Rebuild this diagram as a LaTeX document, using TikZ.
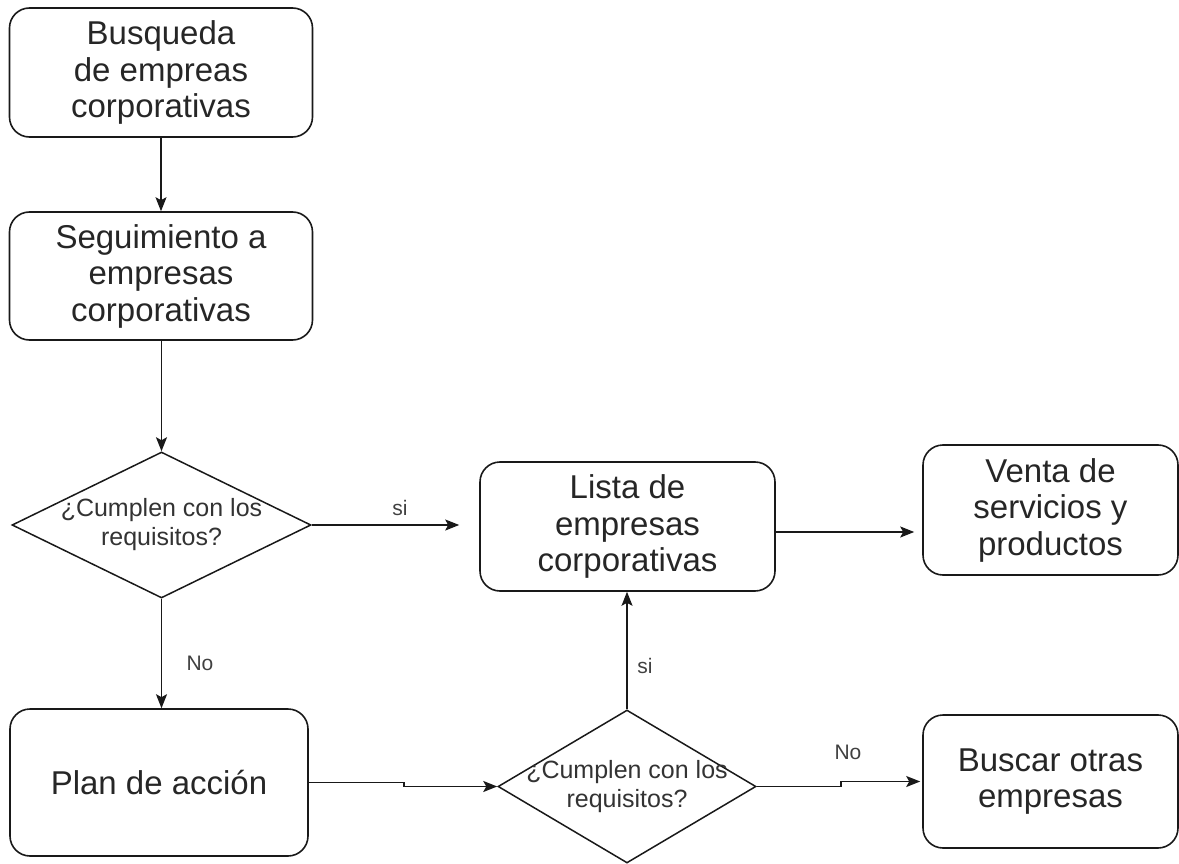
\documentclass[tikz,border=0pt]{standalone}
\usepackage{fontspec}
\setmainfont{Liberation Sans}
\usetikzlibrary{shapes.geometric,arrows.meta,calc}
\begin{document}
\begin{tikzpicture}[x=1pt,y=-1pt,
  box/.style={draw=black!90, line width=1.6pt, rounded corners=20pt, align=center,
    font=\fontsize{33}{36.5}\selectfont, text=black!85, inner sep=0pt},
  dia/.style={draw=black!90, line width=1.5pt, diamond, inner sep=0pt},
  dtext/.style={align=center, font=\fontsize{25}{29}\selectfont, text=black!80},
  lbl/.style={font=\fontsize{21}{24}\selectfont, text=black!75},
  arr/.style={draw=black!90, line width=1.7pt, -{Stealth[length=14pt,width=11pt,inset=3pt]}}]
\useasboundingbox (0,0) rectangle (1179,864);

% process boxes
\node[box, minimum width=303pt, minimum height=129pt] (busq) at (161,72.5) {Busqueda\\de empreas\\corporativas};
\node[box, minimum width=303pt, minimum height=128pt] (segu) at (161,276) {Seguimiento a\\empresas\\corporativas};
\node[box, minimum width=295pt, minimum height=129pt] (lista) at (627.5,526.5) {Lista de\\empresas\\corporativas};
\node[box, minimum width=255pt, minimum height=130pt] (venta) at (1050.5,510) {Venta de\\servicios y\\productos};
\node[box, minimum width=298pt, minimum height=147pt] (plan) at (159,782.5) {Plan de acción};
\node[box, minimum width=255pt, minimum height=133pt] (buscar) at (1050.5,781.5) {Buscar otras\\empresas};

% decisions
\node[dia, minimum width=299pt, minimum height=146pt] (d1) at (161.5,525) {};
\node[dtext] (d1t) at (d1.center) {¿Cumplen con los\\requisitos?};
\node[dia, minimum width=258pt, minimum height=153pt] (d2) at (627,786.5) {};
\node[dtext] (d2t) at (d2.center) {¿Cumplen con los\\requisitos?};

% connectors
\draw[arr] (busq) -- (segu);
\draw[arr] (segu.south -| d1.north) -- (d1.north);
\draw[arr, shorten >=20pt] (d1.east) -- (d1.east -| lista.west);
\draw[arr, shorten >=8pt] (lista.east |- 0,532) -- (venta.west |- 0,532);
\draw[arr] (d1.south) -- (d1.south |- plan.north);
\draw[arr] (plan.east) -- ++(95,0) |- (d2.west);
\draw[arr] (d2.north) -- (d2.north |- lista.south);
\draw[arr, shorten >=2pt] (d2.east) -- ++(84,0) |- (buscar.west);

% connector labels
\node[lbl] (si1) at (400,508) {si};
\node[lbl] (no1) at (200,663) {No};
\node[lbl] (si2) at (645,666) {si};
\node[lbl] (no2) at (848,752) {No};
\end{tikzpicture}
\end{document}
